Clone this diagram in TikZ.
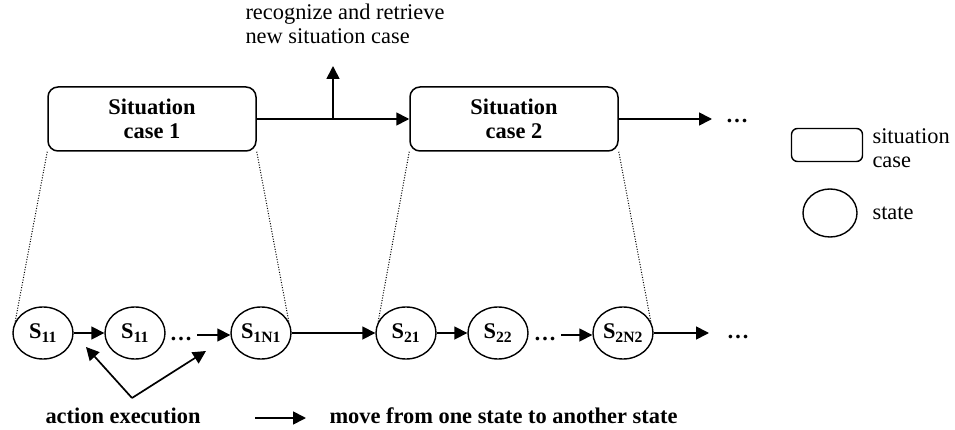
\documentclass[tikz,border=0pt]{standalone}
\usepackage{fontspec}
\setmainfont{Liberation Serif}
\usetikzlibrary{arrows.meta,shapes.geometric}
\tikzset{
  every node/.style={font=\fontsize{22.4pt}{24pt}\selectfont},
  sitbox/.style={draw,line width=1.5pt,rounded corners=10pt,minimum width=208pt,minimum height=64pt,inner sep=0pt,align=center,font=\fontsize{22.4pt}{24pt}\selectfont\bfseries},
  stnode/.style={draw,ellipse,line width=1.4pt,minimum width=60pt,minimum height=52pt,inner sep=1pt,font=\fontsize{22.4pt}{24pt}\selectfont\bfseries},
  arr/.style={line width=1.7pt,-{Triangle[length=13pt,width=13pt]}},
  dotl/.style={line width=1pt,dash pattern=on 1pt off 1.6pt},
  lbl/.style={font=\fontsize{22.4pt}{24pt}\selectfont},
  blbl/.style={font=\fontsize{22.4pt}{24pt}\selectfont\bfseries},
  dotsn/.style={inner sep=0pt,font=\fontsize{22.4pt}{24pt}\selectfont\bfseries}
}
\newcommand{\stl}[1]{S\textsubscript{#1}}
\begin{document}
\begin{tikzpicture}[x=1pt,y=-1pt]
\useasboundingbox (0,0) rectangle (955,430);
% situation boxes
\node[sitbox] (b1) at (152,119) {Situation\\case 1};
\node[sitbox] (b2) at (514,119) {Situation\\case 2};
\coordinate (up) at (333,119);
\coordinate (upend) at (333,66);
\node[lbl,anchor=west,align=left] (rr) at (242,24) {recognize and retrieve\\new situation case};
\draw[arr] (b1.east) -- (b2.west);
\draw[arr] (up) -- (upend);
\coordinate (b2end) at (712,119);
\draw[arr] (b2.east) -- (b2end);
\node[dotsn] (d0) at (737,121) {…};
% states
\node[stnode] (s11) at (43,333) {\stl{11}};
\node[stnode] (s12) at (135,333) {\stl{11}};
\node[dotsn] (d1) at (181,339) {…};
\node[stnode] (s1n) at (261,333) {\stl{1N1}};
\node[stnode] (s21) at (406,333) {\stl{21}};
\node[stnode] (s22) at (498,333) {\stl{22}};
\node[dotsn] (d2) at (545,339) {…};
\node[stnode] (s2n) at (623,333) {\stl{2N2}};
\coordinate (send) at (709,333);
\node[dotsn] (d3) at (738,337) {…};
\coordinate (d1e) at (197,335);
\coordinate (d2e) at (561,335);
\draw[arr] (s11) -- (s12);
\draw[arr] (d1e) -- (s1n.west |- d1e);
\draw[arr] (s1n) -- (s21);
\draw[arr] (s21) -- (s22);
\draw[arr] (d2e) -- (s2n.west |- d2e);
\draw[arr] (s2n.east) -- (send);
% dotted projection lines
\draw[dotl] (b1.south west) -- (s11.158);
\draw[dotl] (b1.south east) -- (s1n.22);
\draw[dotl] (b2.south west) -- (s21.158);
\draw[dotl] (b2.south east) -- (s2n.22);
% action execution
\node[blbl] (ae) at (123,416) {action execution};
\coordinate (aes) at (132,398);
\coordinate (ae1) at (86,347);
\coordinate (ae2) at (206,351);
\draw[arr] (aes) -- (ae1);
\draw[arr] (aes) -- (ae2);
% move legend
\coordinate (ml1) at (255,418);
\coordinate (ml2) at (306,418);
\draw[arr] (ml1) -- (ml2);
\node[blbl,anchor=west] (mv) at (326,416) {move from one state to another state};
% legend
\node[draw,line width=1.4pt,rounded corners=6pt,minimum width=71pt,minimum height=33pt,inner sep=0pt] (lb) at (827,145) {};
\node[lbl,anchor=west,align=left] (lbt) at (869,148) {situation\\case};
\node[draw,ellipse,line width=1.4pt,minimum width=54pt,minimum height=48pt,inner sep=0pt] (lc) at (830,213) {};
\node[lbl,anchor=west] (lct) at (869,213) {state};
\end{tikzpicture}
\end{document}
